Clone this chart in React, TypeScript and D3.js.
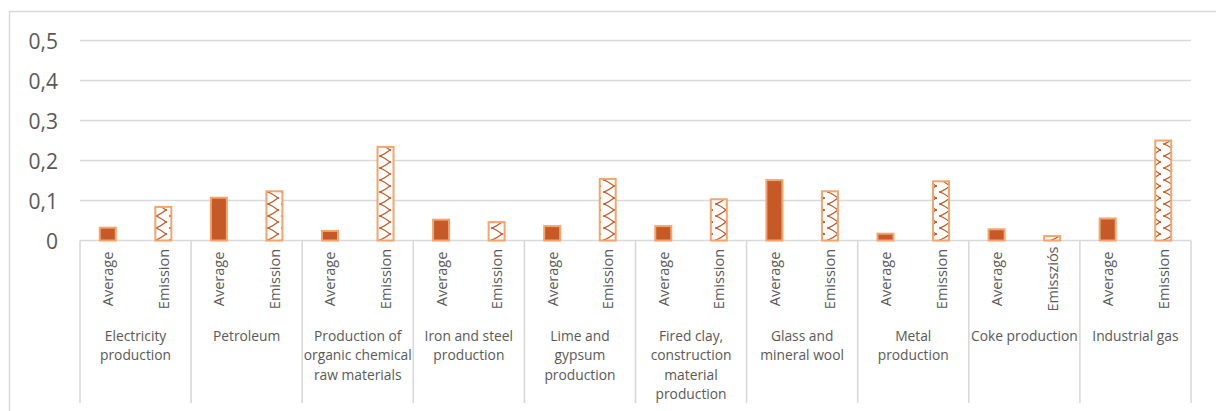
import React from "react";
import * as d3 from "d3";

// Emission factors by industrial sector
const categories: string[][] = [
  ["Electricity", "production"],
  ["Petroleum"],
  ["Production of", "organic chemical", "raw materials"],
  ["Iron and steel", "production"],
  ["Lime and", "gypsum", "production"],
  ["Fired clay,", "construction", "material", "production"],
  ["Glass and", "mineral wool"],
  ["Metal", "production"],
  ["Coke production"],
  ["Industrial gas"],
];
const averageValues = [0.032, 0.107, 0.024, 0.052, 0.036, 0.036, 0.151, 0.017, 0.028, 0.055];
const emissionValues = [0.084, 0.123, 0.234, 0.046, 0.154, 0.103, 0.123, 0.148, 0.011, 0.25];
const averageLabel = "Average";
const emissionLabels = [
  "Emission", "Emission", "Emission", "Emission", "Emission",
  "Emission", "Emission", "Emission", "Emissziós", "Emission",
];
const yTicks = [0, 0.1, 0.2, 0.3, 0.4, 0.5];

const W = 1216;
const H = 411;
const plotLeft = 80;
const plotRight = 1191;
const yBase = 240.5;
const yTop = 40.5;
const axisBottom = 403;

const DARK = "#c55a28";
const LIGHT = "#f4a46c";
const GRID = "#d9d9d9";
const TEXT = "#595959";
const FONT = "'Open Sans', 'Noto Sans', sans-serif";

export default function App() {
  const x = d3.scaleBand<number>()
    .domain(d3.range(categories.length))
    .range([plotLeft, plotRight])
    .paddingInner(0)
    .paddingOuter(0);
  const sub = d3.scaleBand<number>()
    .domain([0, 1])
    .range([0, x.bandwidth()]);
  const y = d3.scaleLinear().domain([0, 0.5]).range([yBase, yTop]);
  const barW = 16;
  const fmt = (v: number) => (v === 0 ? "0" : d3.format(".1f")(v).replace(".", ","));

  const subCenter = (i: number, k: number) => (x(i) as number) + (sub(k) as number) + sub.bandwidth() / 2;

  return (
    <svg width={W} height={H} style={{ position: "absolute", left: 0, top: 0, background: "#fff" }}>
      <defs>
        <pattern id="zigzag" width={14} height={12} patternUnits="userSpaceOnUse">
          <rect width={14} height={12} fill="#fff" />
          <path d="M2,0 Q7,2 12,6 Q7,10 2,12" fill="none" stroke={DARK} strokeWidth={1.2} />
          <circle cx={12} cy={6} r={1.1} fill={DARK} />
          <circle cx={2} cy={0} r={1.1} fill={DARK} />
          <circle cx={2} cy={12} r={1.1} fill={DARK} />
        </pattern>
      </defs>

      {/* chart frame */}
      <rect x={9.5} y={11.5} width={1300} height={500} fill="none" stroke={GRID} strokeWidth={1.5} />

      {/* gridlines and value labels */}
      {yTicks.map((t) => (
        <g key={t}>
          <line x1={plotLeft} x2={plotRight} y1={y(t)} y2={y(t)} stroke={GRID} strokeWidth={1.6} />
          <text
            x={58}
            y={y(t)}
            textAnchor="end"
            dominantBaseline="central"
            fontFamily={FONT}
            fontSize={21}
            fill={TEXT}
          >
            {fmt(t)}
          </text>
        </g>
      ))}

      {/* category separators */}
      {d3.range(categories.length + 1).map((i) => {
        const xx = i < categories.length ? (x(i) as number) : plotRight;
        return <line key={i} x1={xx} x2={xx} y1={yBase} y2={axisBottom} stroke={GRID} strokeWidth={1.6} />;
      })}

      {/* bars */}
      {categories.map((_, i) => (
        <g key={i}>
          <rect
            x={subCenter(i, 0) - barW / 2}
            y={y(averageValues[i])}
            width={barW}
            height={yBase - y(averageValues[i])}
            fill={DARK}
            stroke={LIGHT}
            strokeWidth={2}
          />
          <rect
            x={subCenter(i, 1) - barW / 2}
            y={y(emissionValues[i])}
            width={barW}
            height={yBase - y(emissionValues[i])}
            fill="url(#zigzag)"
            stroke={LIGHT}
            strokeWidth={2}
          />
        </g>
      ))}

      {/* series labels */}
      {categories.map((_, i) => (
        <g key={i} fontFamily={FONT} fontSize={14.5} fill={TEXT}>
          {[averageLabel, emissionLabels[i]].map((lab, k) => (
            <text
              key={k}
              transform={`translate(${subCenter(i, k)},279) rotate(-90)`}
              textAnchor="middle"
              dominantBaseline="central"
            >
              {lab}
            </text>
          ))}
        </g>
      ))}

      {/* category labels */}
      {categories.map((lines, i) => (
        <text
          key={i}
          x={(x(i) as number) + x.bandwidth() / 2}
          textAnchor="middle"
          fontFamily={FONT}
          fontSize={13.8}
          fill={TEXT}
        >
          {lines.map((ln, j) => (
            <tspan key={j} x={(x(i) as number) + x.bandwidth() / 2} y={335 + j * 19.5} dominantBaseline="central">
              {ln}
            </tspan>
          ))}
        </text>
      ))}
    </svg>
  );
}
